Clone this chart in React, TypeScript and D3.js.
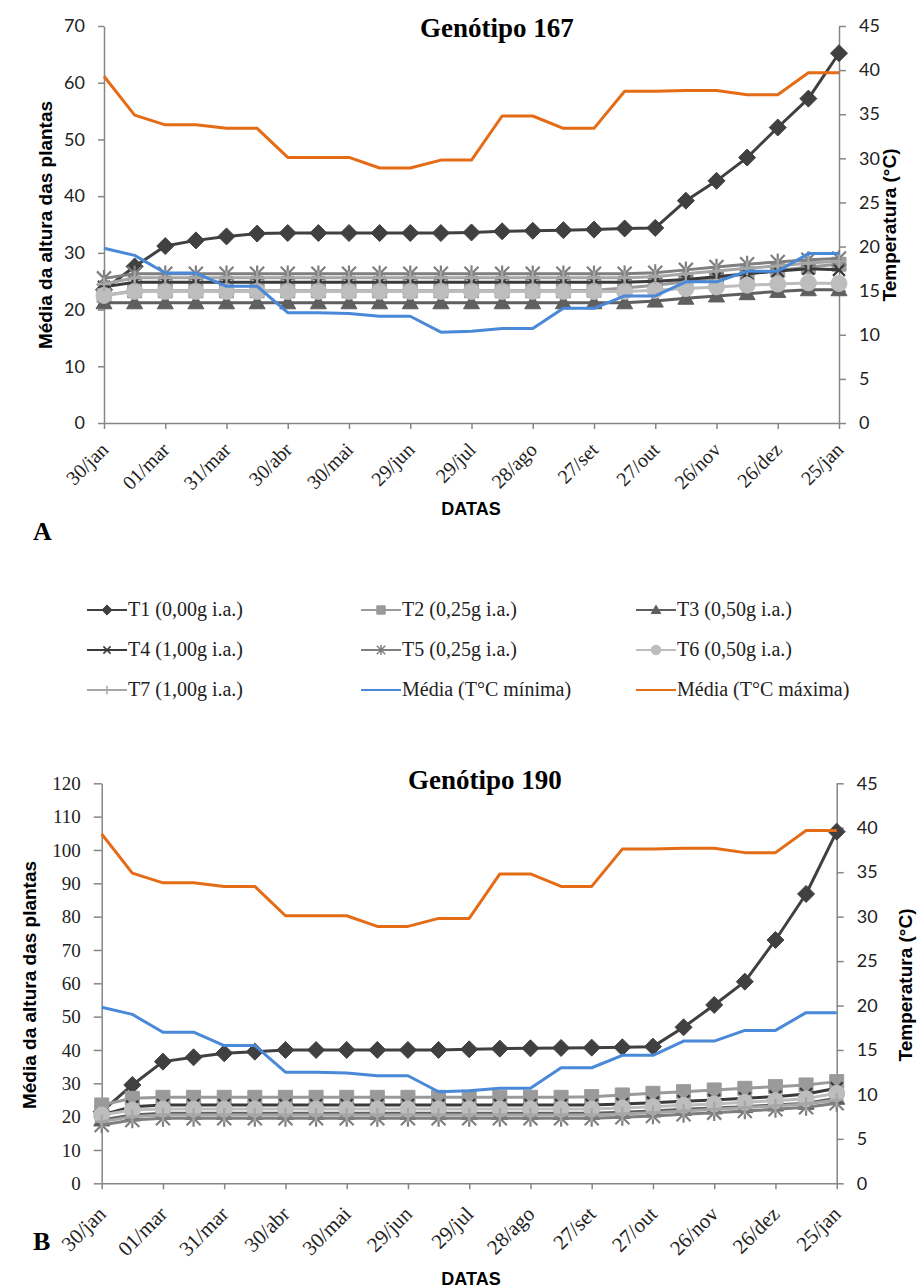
import React, { useEffect, useRef } from "react";
import * as d3 from "d3";

// 25 sampling dates (every ~15 days), labels shown on every other one
const dates = ["30/jan", "14/fev", "01/mar", "16/mar", "31/mar", "15/abr", "30/abr", "15/mai", "30/mai", "14/jun", "29/jun", "14/jul", "29/jul", "13/ago", "28/ago", "12/set", "27/set", "12/out", "27/out", "11/nov", "26/nov", "11/dez", "26/dez", "10/jan", "25/jan"];

const tempMin = [19.8, 19.0, 17.0, 17.0, 15.5, 15.5, 12.5, 12.5, 12.4, 12.1, 12.1, 10.3, 10.4, 10.7, 10.7, 13.0, 13.0, 14.4, 14.4, 16.0, 16.0, 17.2, 17.2, 19.2, 19.2];
const tempMax = [39.3, 34.9, 33.8, 33.8, 33.4, 33.4, 30.1, 30.1, 30.1, 28.9, 28.9, 29.8, 29.8, 34.8, 34.8, 33.4, 33.4, 37.6, 37.6, 37.7, 37.7, 37.2, 37.2, 39.7, 39.7];

// Genótipo 167
const t1_167 = [23.5, 27.6, 31.2, 32.2, 32.9, 33.4, 33.5, 33.5, 33.5, 33.5, 33.5, 33.5, 33.6, 33.8, 33.9, 34.0, 34.1, 34.3, 34.4, 39.2, 42.7, 46.8, 52.1, 57.2, 65.2];
const t2_167 = [22.5, 23.3, 23.3, 23.3, 23.3, 23.3, 23.3, 23.3, 23.3, 23.3, 23.3, 23.3, 23.3, 23.3, 23.3, 23.3, 23.4, 23.8, 24.3, 24.9, 25.6, 26.3, 26.9, 27.5, 28.0];
const t3_167 = [21.2, 21.2, 21.2, 21.2, 21.2, 21.2, 21.2, 21.2, 21.2, 21.2, 21.2, 21.2, 21.2, 21.2, 21.2, 21.2, 21.2, 21.2, 21.5, 22.0, 22.4, 22.8, 23.2, 23.5, 23.5];
const t4_167 = [24.0, 24.8, 24.8, 24.8, 24.8, 24.8, 24.8, 24.8, 24.8, 24.8, 24.8, 24.8, 24.8, 24.8, 24.8, 24.8, 24.8, 24.8, 25.0, 25.3, 25.8, 26.3, 26.8, 27.2, 27.0];
const t5_167 = [25.5, 26.3, 26.3, 26.3, 26.3, 26.3, 26.3, 26.3, 26.3, 26.3, 26.3, 26.3, 26.3, 26.3, 26.3, 26.3, 26.3, 26.3, 26.5, 27.0, 27.5, 28.0, 28.4, 28.8, 29.0];
const t6_167 = [22.5, 23.2, 23.2, 23.2, 23.2, 23.2, 23.2, 23.2, 23.2, 23.2, 23.2, 23.2, 23.2, 23.2, 23.2, 23.2, 23.2, 23.2, 23.4, 23.7, 24.0, 24.3, 24.5, 24.7, 24.6];
const t7_167 = [24.5, 25.6, 25.6, 25.6, 25.6, 25.6, 25.6, 25.6, 25.6, 25.6, 25.6, 25.6, 25.6, 25.6, 25.6, 25.6, 25.6, 25.6, 25.8, 26.3, 26.8, 27.3, 27.7, 28.2, 28.5];

// Genótipo 190
const t1_190 = [21.5, 29.5, 36.5, 37.8, 39.0, 39.5, 40.0, 40.0, 40.0, 40.0, 40.0, 40.0, 40.2, 40.4, 40.5, 40.6, 40.7, 40.8, 41.0, 46.8, 53.5, 60.5, 73.0, 86.8, 105.5];
const t2_190 = [23.5, 25.5, 25.8, 25.8, 25.8, 25.8, 25.8, 25.8, 25.8, 25.8, 25.8, 25.8, 25.8, 25.8, 25.8, 25.8, 26.0, 26.5, 27.0, 27.5, 28.0, 28.5, 29.0, 29.5, 30.5];
const t3_190 = [19.0, 20.5, 21.0, 21.0, 21.0, 21.0, 21.0, 21.0, 21.0, 21.0, 21.0, 21.0, 21.0, 21.0, 21.0, 21.0, 21.0, 21.3, 21.7, 22.2, 22.6, 23.0, 23.5, 24.0, 25.5];
const t4_190 = [20.5, 23.0, 23.5, 23.5, 23.5, 23.5, 23.5, 23.5, 23.5, 23.5, 23.5, 23.5, 23.5, 23.5, 23.5, 23.5, 23.5, 23.8, 24.2, 24.6, 25.0, 25.5, 26.0, 26.8, 28.5];
const t5_190 = [17.5, 19.0, 19.5, 19.5, 19.5, 19.5, 19.5, 19.5, 19.5, 19.5, 19.5, 19.5, 19.5, 19.5, 19.5, 19.5, 19.5, 19.8, 20.2, 20.7, 21.2, 21.7, 22.2, 22.8, 24.0];
const t6_190 = [20.5, 22.0, 22.3, 22.3, 22.3, 22.3, 22.3, 22.3, 22.3, 22.3, 22.3, 22.3, 22.3, 22.3, 22.3, 22.3, 22.3, 22.6, 23.0, 23.4, 23.8, 24.3, 24.8, 25.4, 27.0];
const t7_190 = [18.5, 20.0, 20.5, 20.5, 20.5, 20.5, 20.5, 20.5, 20.5, 20.5, 20.5, 20.5, 20.5, 20.5, 20.5, 20.5, 20.5, 20.8, 21.2, 21.7, 22.2, 22.7, 23.2, 23.8, 25.0];

const seriesNames = ["T1 (0,00g i.a.)", "T2 (0,25g i.a.)", "T3 (0,50g i.a.)", "T4 (1,00g i.a.)", "T5 (0,25g i.a.)", "T6 (0,50g i.a.)", "T7 (1,00g i.a.)", "Média (T°C mínima)", "Média (T°C máxima)"];

const leftTicks167 = [0, 10, 20, 30, 40, 50, 60, 70];
const leftTicks190 = [0, 10, 20, 30, 40, 50, 60, 70, 80, 90, 100, 110, 120];
const rightTicks = [0, 5, 10, 15, 20, 25, 30, 35, 40, 45];

const SERIF = "'Liberation Serif', 'Times New Roman', serif";
const SANS = "'Liberation Sans', Arial, sans-serif";
const CAL = "Lato, 'Open Sans', sans-serif";
const AXIS = "#868686";

// custom marker shapes (size = half width)
const mk = (fn) => ({ draw: fn });
const markers = {
    diamond: mk((c, r) => { c.moveTo(0, -r); c.lineTo(r, 0); c.lineTo(0, r); c.lineTo(-r, 0); c.closePath(); }),
    square: mk((c, r) => { c.rect(-r, -r, 2 * r, 2 * r); }),
    triangle: mk((c, r) => { c.moveTo(0, -r); c.lineTo(r, r * 0.75); c.lineTo(-r, r * 0.75); c.closePath(); }),
    x: mk((c, r) => { c.moveTo(-r, -r); c.lineTo(r, r); c.moveTo(-r, r); c.lineTo(r, -r); }),
    star: mk((c, r) => { c.moveTo(-r, -r); c.lineTo(r, r); c.moveTo(-r, r); c.lineTo(r, -r); c.moveTo(0, -r * 1.2); c.lineTo(0, r * 1.2); }),
    circle: mk((c, r) => { c.moveTo(r, 0); c.arc(0, 0, r, 0, 2 * Math.PI); }),
    plus: mk((c, r) => { c.moveTo(-r, 0); c.lineTo(r, 0); c.moveTo(0, -r); c.lineTo(0, r); }),
};

const styles = [
    { color: "#404040", marker: "diamond", fill: true, r: 8.5, w: 3 },
    { color: "#9a9a9a", marker: "square", fill: true, r: 7, w: 3 },
    { color: "#5f5f5f", marker: "triangle", fill: true, r: 8, w: 3 },
    { color: "#3a3a3a", marker: "x", fill: false, r: 6, w: 3 },
    { color: "#7f7f7f", marker: "star", fill: false, r: 7, w: 3 },
    { color: "#bdbdbd", marker: "circle", fill: true, r: 8, w: 3 },
    { color: "#a6a6a6", marker: "plus", fill: false, r: 7, w: 3 },
    { color: "#4a88d8", marker: null, w: 3 },
    { color: "#e46c16", marker: null, w: 3 },
];

function drawChart(root, c) {
    const g = root.append("g");
    const x = d3.scalePoint().domain(dates).range([c.left, c.right]);
    const yL = d3.scaleLinear().domain([0, c.leftMax]).range([c.bottom, c.top]);
    const yR = d3.scaleLinear().domain([0, 45]).range([c.bottom, c.top]);

    // axes
    const ax = g.append("g").attr("transform", "translate(" + c.left + ",0)")
        .call(d3.axisLeft(yL).tickValues(c.leftTicks).tickSize(c.tickL).tickSizeOuter(0).tickPadding(13));
    ax.attr("color", AXIS).selectAll("text").attr("fill", "#222").style("font", c.leftFont);
    ax.selectAll("line, path").attr("stroke-width", 1.5);

    const ar = g.append("g").attr("transform", "translate(" + c.right + ",0)")
        .call(d3.axisRight(yR).tickValues(rightTicks).tickSize(7).tickSizeOuter(0).tickPadding(13));
    ar.attr("color", AXIS).selectAll("text").attr("fill", "#222").style("font", "18px " + CAL);
    ar.selectAll("line, path").attr("stroke-width", 1.5);

    const axb = g.append("g").attr("transform", "translate(0," + c.bottom + ")")
        .call(d3.axisBottom(x).tickValues(dates.filter((d, i) => i % 2 === 0)).tickSize(6).tickSizeOuter(0));
    axb.attr("color", AXIS);
    axb.selectAll("line, path").attr("stroke-width", 1.5);
    axb.selectAll("text")
        .attr("fill", "#222")
        .style("font", c.xFont)
        .style("text-anchor", "end")
        .attr("y", 0).attr("dy", 0)
        .attr("transform", "translate(" + c.xlDx + "," + c.xlDy + ") rotate(-45)");

    // series
    const all = [...c.series, tempMin, tempMax];
    all.forEach((vals, si) => {
        const st = styles[si];
        const y = si >= 7 ? yR : yL;
        g.append("path")
            .datum(vals)
            .attr("fill", "none")
            .attr("stroke", st.color)
            .attr("stroke-width", st.w)
            .attr("stroke-linejoin", "round")
            .attr("d", d3.line().x((d, i) => x(dates[i])).y(d => y(d)));
        if (st.marker) {
            g.append("g").selectAll("path")
                .data(vals)
                .join("path")
                .attr("transform", (d, i) => "translate(" + x(dates[i]) + "," + y(d) + ")")
                .attr("d", d3.symbol().type(markers[st.marker]).size(st.r))
                .attr("fill", st.fill ? st.color : "none")
                .attr("stroke", st.color)
                .attr("stroke-width", st.fill ? 1 : 2.2);
        }
    });

    // texts
    g.append("text").attr("x", c.titleX).attr("y", c.titleY).attr("text-anchor", "middle")
        .style("font", "bold 27px " + SERIF).text(c.title);
    g.append("text").attr("transform", "translate(" + c.ylX + "," + c.ylY + ") rotate(-90)").attr("text-anchor", "middle")
        .style("font", "bold 19px " + SANS).text("Média da altura das plantas");
    g.append("text").attr("transform", "translate(" + c.yrX + "," + c.ylY + ") rotate(-90)").attr("text-anchor", "middle")
        .style("font", "bold 19px " + SANS).text("Temperatura (°C)");
    g.append("text").attr("x", 471).attr("y", c.datasY).attr("text-anchor", "middle")
        .style("font", "bold 18px " + SANS).text("DATAS");
    g.append("text").attr("x", 33).attr("y", c.letterY)
        .style("font", "bold 26px " + SERIF).text(c.letter);
}

function drawLegend(root) {
    const g = root.append("g");
    const cols = [87, 361, 636];
    const rows = [610, 650, 690];
    seriesNames.forEach((name, i) => {
        const st = styles[i];
        const lx = cols[i % 3];
        const ly = rows[Math.floor(i / 3)];
        g.append("line").attr("x1", lx).attr("x2", lx + 40).attr("y1", ly).attr("y2", ly)
            .attr("stroke", st.color).attr("stroke-width", 2.2);
        if (st.marker) {
            g.append("path").attr("transform", "translate(" + (lx + 20) + "," + ly + ")")
                .attr("d", d3.symbol().type(markers[st.marker]).size(st.r * 0.6))
                .attr("fill", st.fill ? st.color : "none")
                .attr("stroke", st.color).attr("stroke-width", st.fill ? 1 : 1.5);
        }
        g.append("text").attr("x", lx + 41).attr("y", ly + 6)
            .attr("fill", "#222").style("font", "20px " + SERIF).text(name);
    });
}

export default function App() {
    const ref = useRef(null);

    useEffect(() => {
        const svg = d3.select(ref.current);
        svg.selectAll("*").remove();
        svg.append("rect").attr("width", 920).attr("height", 1288).attr("fill", "#fff");

        drawChart(svg, {
            left: 104, right: 839, top: 26, bottom: 423,
            leftMax: 70, leftTicks: leftTicks167, tickL: 6, leftFont: "18px " + CAL,
            xFont: "20px " + SERIF, xlDx: 5, xlDy: 28,
            series: [t1_167, t2_167, t3_167, t4_167, t5_167, t6_167, t7_167],
            title: "Genótipo 167", titleX: 497, titleY: 37,
            ylX: 52, yrX: 896, ylY: 225, datasY: 515, letter: "A", letterY: 540,
        });
        drawChart(svg, {
            left: 101.7, right: 836.7, top: 783.3, bottom: 1183.3,
            leftMax: 120, leftTicks: leftTicks190, tickL: 8, leftFont: "19px " + SERIF,
            xFont: "21px " + SERIF, xlDx: 5, xlDy: 32,
            series: [t1_190, t2_190, t3_190, t4_190, t5_190, t6_190, t7_190],
            title: "Genótipo 190", titleX: 485, titleY: 789,
            ylX: 36, yrX: 912, ylY: 985, datasY: 1285, letter: "B", letterY: 1250,
        });
        drawLegend(svg);
    }, []);

    return (
        <svg ref={ref} width={920} height={1288} style={{ position: "absolute", left: 0, top: 0 }} />
    );
}
